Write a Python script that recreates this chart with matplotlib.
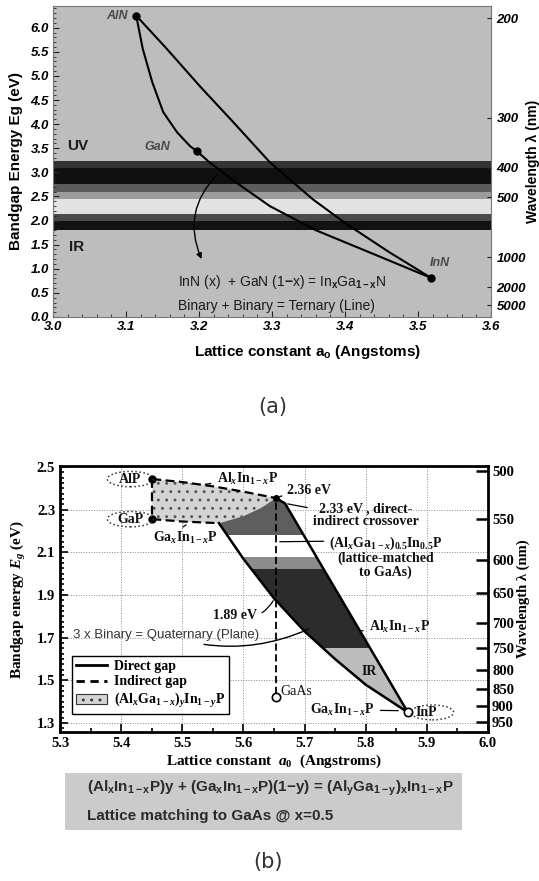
import numpy as np
import matplotlib.pyplot as plt
from matplotlib import patches
from matplotlib.lines import Line2D
from matplotlib.ticker import MultipleLocator

plt.rcParams["font.family"] = ["Liberation Sans", "DejaVu Sans"]
plt.rcParams["mathtext.fontset"] = "custom"
plt.rcParams["mathtext.rm"] = "Liberation Serif:bold"
plt.rcParams["mathtext.it"] = "Liberation Serif:italic:bold"
plt.rcParams["mathtext.bf"] = "Liberation Serif:bold"
plt.rcParams["mathtext.sf"] = "Liberation Sans:bold"
plt.rcParams["hatch.linewidth"] = 0.9
plt.rcParams["axes.unicode_minus"] = True

# ---------------- (a) III-nitrides ----------------
nitride_names = ["AlN", "GaN", "InN"]
nitride_a = [3.114, 3.197, 3.518]
nitride_eg = [6.25, 3.44, 0.81]

aln_gan_a = [3.114, 3.123, 3.136, 3.151, 3.170, 3.188, 3.197]
aln_gan_eg = [6.25, 5.56, 4.87, 4.25, 3.83, 3.54, 3.44]
aln_inn_a = [3.114, 3.156, 3.201, 3.247, 3.297, 3.356, 3.400, 3.460, 3.518]
aln_inn_eg = [6.25, 5.56, 4.79, 4.04, 3.21, 2.44, 1.95, 1.35, 0.81]
gan_inn_a = [3.197, 3.215, 3.250, 3.297, 3.360, 3.440, 3.518]
gan_inn_eg = [3.44, 3.20, 2.80, 2.30, 1.80, 1.30, 0.81]

a_xticks = [3.0, 3.1, 3.2, 3.3, 3.4, 3.5, 3.6]
a_yticks = [0.0, 0.5, 1.0, 1.5, 2.0, 2.5, 3.0, 3.5, 4.0, 4.5, 5.0, 5.5, 6.0]
a_wavelengths = [200, 300, 400, 500, 1000, 2000, 5000]

# spectral bands behind the curves (eV edges, top to bottom)
a_band_edges = [3.23, 3.08, 2.75, 2.60, 2.45, 2.13, 2.00, 1.81]

# ---------------- (b) AlGaInP ----------------
phos_names = ["AlP", "GaP", "GaAs", "InP"]
phos_a = [5.451, 5.451, 5.653, 5.869]
phos_eg = [2.444, 2.256, 1.424, 1.350]

alinp_ind_a = [5.451, 5.50, 5.55, 5.60, 5.653]
alinp_ind_eg = [2.444, 2.430, 2.410, 2.385, 2.355]
gainp_ind_a = [5.451, 5.50, 5.56]
gainp_ind_eg = [2.256, 2.245, 2.237]
cross_a = [5.56, 5.60, 5.63, 5.653]
cross_eg = [2.237, 2.270, 2.310, 2.355]
alinp_dir_a = [5.653, 5.668, 5.869]
alinp_dir_eg = [2.355, 2.330, 1.350]
gainp_dir_a = [5.56, 5.60, 5.65, 5.70, 5.75, 5.80, 5.869]
gainp_dir_eg = [2.237, 2.070, 1.885, 1.730, 1.600, 1.480, 1.350]

b_band_edges = [2.36, 2.18, 2.08, 2.02, 1.65, 1.34]

b_xticks = [5.3, 5.4, 5.5, 5.6, 5.7, 5.8, 5.9, 6.0]
b_yticks = [1.3, 1.5, 1.7, 1.9, 2.1, 2.3, 2.5]
b_wavelengths = [500, 550, 600, 650, 700, 750, 800, 850, 900, 950]

fig = plt.figure(figsize=(5.39, 8.81), dpi=100)

# ======================= panel (a) =======================
axa = fig.add_axes([0.0983, 0.6402, 0.8126, 0.3530])
axa.set_xlim(3.0, 3.6)
axa.set_ylim(0, 6.45)
axa.set_facecolor("#bdbdbd")

band_cols = ["#333333", "#101010", "#5c5c5c", "#9c9c9c", "#e2e2e2", "#4a4a4a", "#121212"]
for hi, lo, c in zip(a_band_edges[:-1], a_band_edges[1:], band_cols):
    axa.axhspan(lo, hi, color=c, lw=0, zorder=1)

for xs, ys in [(aln_gan_a, aln_gan_eg), (aln_inn_a, aln_inn_eg), (gan_inn_a, gan_inn_eg)]:
    axa.plot(xs, ys, color="k", lw=1.5, zorder=3)
axa.plot(nitride_a, nitride_eg, "o", color="k", ms=5, zorder=4)

offs = [(-6, 0, "right"), (-19, 3, "right"), (6, 11, "center")]
for name, x, y, (dx, dy, ha) in zip(nitride_names, nitride_a, nitride_eg, offs):
    axa.annotate(name, (x, y), xytext=(dx, dy), textcoords="offset points",
                 ha=ha, va="center", fontsize=9, fontweight="bold",
                 fontstyle="italic", color="#4a4a4a", zorder=5)

axa.text(3.034, 3.54, "UV", fontsize=11, fontweight="bold", color="#1a1a1a",
         ha="center", va="center", zorder=5)
axa.text(3.033, 1.46, "IR", fontsize=11, fontweight="bold", color="#1a1a1a",
         ha="center", va="center", zorder=5)
axa.text(3.171, 0.73, r"InN (x)  + GaN (1$\mathsf{-}$x) = In$_\mathsf{x}$Ga$_\mathsf{1-x}$N",
         fontsize=10, color="#1a1a1a", ha="left", va="center", zorder=5)
axa.text(3.171, 0.23, "Binary + Binary = Ternary (Line)",
         fontsize=10, color="#1a1a1a", ha="left", va="center", zorder=5)
axa.annotate("", xy=(3.205, 1.15), xytext=(3.228, 3.0),
             arrowprops=dict(arrowstyle="-|>", connectionstyle="arc3,rad=0.35",
                             color="k", lw=1.0, mutation_scale=8), zorder=5)

axa.set_xticks(a_xticks, [f"{v:.1f}" for v in a_xticks],
               fontweight="bold", fontstyle="italic", fontsize=9.5)
axa.set_yticks(a_yticks, [f"{v:.1f}" for v in a_yticks],
               fontweight="bold", fontstyle="italic", fontsize=9.5)
axa.xaxis.set_minor_locator(MultipleLocator(0.02))
axa.yaxis.set_minor_locator(MultipleLocator(0.1))
axa.tick_params(which="both", direction="in", color="#222222")
axa.tick_params(which="major", length=4, pad=3)
axa.tick_params(which="minor", length=2)
for sp in axa.spines.values():
    sp.set_color("#777777")
    sp.set_linewidth(0.8)
axa.set_ylabel("Bandgap Energy Eg (eV)", fontsize=11, fontweight="bold", labelpad=5)
axa.set_xlabel(r"Lattice constant a$_\mathsf{o}$ (Angstoms)", fontsize=11, fontweight="bold")
axa.xaxis.set_label_coords(0.58, -0.085)

axa2 = axa.twinx()
axa2.set_ylim(axa.get_ylim())
axa2.set_yticks([1240.0 / w for w in a_wavelengths], [str(w) for w in a_wavelengths],
                fontweight="bold", fontstyle="italic", fontsize=9.5)
axa2.tick_params(direction="in", length=3, color="#222222", pad=4)
for sp in axa2.spines.values():
    sp.set_visible(False)
axa2.set_ylabel("Wavelength λ (nm)", fontsize=10, fontweight="bold", labelpad=0)

fig.text(273 / 539, 1 - 407 / 881, "(a)", ha="center", va="center",
         fontsize=15, color="#333333", family="DejaVu Sans")

# ======================= panel (b) =======================
serif = "Liberation Serif"
axb = fig.add_axes([0.1113, 0.1691, 0.7940, 0.3019])
axb.set_xlim(5.3, 6.0)
axb.set_ylim(1.258, 2.505)
axb.set_axisbelow(True)
axb.grid(True, ls=":", lw=0.7, color="#8a8a8a")

ind_xy = np.column_stack([alinp_ind_a + cross_a[::-1] + gainp_ind_a[::-1],
                          alinp_ind_eg + cross_eg[::-1] + gainp_ind_eg[::-1]])
axb.add_patch(patches.Polygon(ind_xy, closed=True, facecolor="#d4d4d4",
                              edgecolor="#555555", hatch="..", lw=0, zorder=1.5))

dir_xy = np.column_stack([cross_a + alinp_dir_a[1:] + gainp_dir_a[::-1][1:],
                          cross_eg + alinp_dir_eg[1:] + gainp_dir_eg[::-1][1:]])
dir_patch = patches.Polygon(dir_xy, closed=True, facecolor="none", edgecolor="none")
axb.add_patch(dir_patch)
b_cols = ["#5e5e5e", "#ffffff", "#8c8c8c", "#2c2c2c", "#bcbcbc"]
for hi, lo, c in zip(b_band_edges[:-1], b_band_edges[1:], b_cols):
    r = axb.axhspan(lo, hi, facecolor=c, lw=0, zorder=1.6)
    r.set_clip_path(dir_patch)

dash = dict(color="k", lw=1.6, ls=(0, (4, 2)), zorder=4)
axb.plot(alinp_ind_a, alinp_ind_eg, **dash)
axb.plot(gainp_ind_a, gainp_ind_eg, **dash)
axb.plot(phos_a[:2], phos_eg[:2], **dash)
axb.plot([phos_a[2], phos_a[2]], [phos_eg[2] + 0.012, alinp_dir_eg[0]],
         color="k", lw=1.3, ls=(0, (4, 2)), zorder=4)
axb.plot(alinp_dir_a, alinp_dir_eg, color="k", lw=1.8, zorder=4)
axb.plot(gainp_dir_a, gainp_dir_eg, color="k", lw=1.8, zorder=4)

axb.plot(phos_a[:2], phos_eg[:2], "o", color="k", ms=5, zorder=5)
axb.plot(phos_a[2:], phos_eg[2:], "o", mfc="white", mec="k", ms=6, mew=1.2, zorder=5)
axb.plot(alinp_dir_a[:1], alinp_dir_eg[:1], "o", color="k", ms=4, zorder=5)

tb = dict(family=serif, fontweight="bold", fontsize=10, color="#111111", zorder=6)
# binary labels with dotted ellipses
for name, x, y in zip(phos_names[:2], phos_a[:2], phos_eg[:2]):
    axb.add_patch(patches.Ellipse((x - 0.036, y), 0.075, 0.072, fill=False,
                                  ls=":", lw=1.1, ec="#333333", zorder=6))
    axb.text(x - 0.036, y, name, ha="center", va="center", **tb)
axb.add_patch(patches.Ellipse((phos_a[3] + 0.040, phos_eg[3]), 0.07, 0.07, fill=False,
                              ls=":", lw=1.1, ec="#333333", zorder=6))
axb.text(phos_a[3] + 0.013, phos_eg[3], "InP", ha="left", va="center", **tb)
axb.text(phos_a[2] + 0.007, phos_eg[2] + 0.022, "GaAs", ha="left", va="center",
         family=serif, fontsize=10, color="#111111", zorder=6)

lead = dict(arrowstyle="-", color="k", lw=0.9)
axb.annotate(r"Al$_x$In$_{1-x}$P", (5.533, 2.418), xytext=(5.556, 2.445),
             ha="left", va="center", arrowprops=lead, **tb)
axb.annotate(r"Ga$_x$In$_{1-x}$P", (5.51, 2.237), xytext=(5.452, 2.168),
             ha="left", va="center", arrowprops=dict(arrowstyle="-", color="k", lw=0.9,
                                                      shrinkA=0, relpos=(0.4, 1.0)), **tb)
axb.annotate("2.36 eV", (5.655, 2.36), xytext=(5.672, 2.39), ha="left", va="center",
             arrowprops=lead, **tb)
axb.annotate("2.33 eV , direct-\nindirect crossover", (5.668, 2.33), xytext=(5.80, 2.275),
             ha="center", va="center", linespacing=1.0,
             arrowprops=dict(arrowstyle="-", color="k", lw=0.9, relpos=(0.0, 0.75)), **tb)
axb.annotate("(Al$_x$Ga$_{1-x}$)$_{0.5}$In$_{0.5}$P\n(lattice-matched\nto GaAs)",
             (5.655, 2.15), xytext=(5.833, 2.08), ha="center", va="center",
             linespacing=1.0,
             arrowprops=dict(arrowstyle="-", color="k", lw=0.9, relpos=(0.0, 0.85)), **tb)
axb.annotate("1.89 eV", (5.651, 1.885), xytext=(5.622, 1.805), ha="right", va="center",
             arrowprops=dict(arrowstyle="-", color="k", lw=0.9,
                             connectionstyle="arc3,rad=0.4"), **tb)
axb.annotate("3 x Binary = Quaternary (Plane)", (5.71, 1.745), xytext=(5.322, 1.712),
             ha="left", va="center", fontsize=9.5, color="#333333",
             arrowprops=dict(arrowstyle="-", color="k", lw=1.0,
                             connectionstyle="arc3,rad=0.2"), zorder=6)
axb.annotate(r"Al$_x$In$_{1-x}$P", (5.785, 1.73), xytext=(5.805, 1.75),
             ha="left", va="center", arrowprops=lead, **tb)
axb.text(5.805, 1.54, "IR", ha="center", va="center", **tb)
axb.annotate(r"Ga$_x$In$_{1-x}$P", (5.858, 1.358), xytext=(5.815, 1.362),
             ha="right", va="center", arrowprops=lead, **tb)

axb.set_xticks(b_xticks, [f"{v:.1f}" for v in b_xticks], family=serif,
               fontweight="bold", fontsize=10.5)
axb.set_yticks(b_yticks, [f"{v:.1f}" for v in b_yticks], family=serif,
               fontweight="bold", fontsize=10.5)
axb.yaxis.set_minor_locator(MultipleLocator(0.025))
axb.xaxis.set_minor_locator(MultipleLocator(0.05))
axb.tick_params(which="both", direction="in", width=1.2)
axb.tick_params(which="major", length=6)
axb.tick_params(which="minor", length=3)
for sp in axb.spines.values():
    sp.set_linewidth(2.0)
axb.set_ylabel(r"Bandgap energy $E_g$ (eV)", family=serif, fontweight="bold",
               fontsize=11, labelpad=6)
axb.set_xlabel(r"Lattice constant  $a_0$  (Angstroms)", family=serif,
               fontweight="bold", fontsize=11, labelpad=2)

axb2 = axb.twinx()
axb2.set_ylim(axb.get_ylim())
axb2.set_yticks([1240.0 / w for w in b_wavelengths], [str(w) for w in b_wavelengths],
                family=serif, fontweight="bold", fontsize=10.5)
axb2.tick_params(direction="in", length=9, width=1.8, pad=3)
for sp in axb2.spines.values():
    sp.set_visible(False)
axb2.set_ylabel("Wavelength λ (nm)", family=serif, fontweight="bold",
                fontsize=10.5, labelpad=2)

handles = [Line2D([], [], color="k", lw=2),
           Line2D([], [], color="k", lw=2, ls=(0, (3, 2))),
           patches.Patch(facecolor="#d4d4d4", edgecolor="#333333", hatch="..", lw=0.8)]
labels = ["Direct gap", "Indirect gap", r"(Al$_x$Ga$_{1-x}$)$_y$In$_{1-y}$P"]
leg = axb.legend(handles, labels, loc="lower left", bbox_to_anchor=(0.012, 0.04),
                 prop=dict(family=serif, weight="bold", size=10), fancybox=False,
                 edgecolor="k", framealpha=1, borderpad=0.3, handlelength=2.2,
                 labelspacing=0.2, handletextpad=0.5)
leg.get_frame().set_linewidth(1.0)
leg.set_zorder(7)

# formula box under panel (b)
fig.add_artist(patches.Rectangle((0.1206, 0.0579), 0.7365, 0.0647,
                                 transform=fig.transFigure, facecolor="#cbcbcb",
                                 edgecolor="none"))
fig.text(0.162, 1 - 789 / 881,
         r"(Al$_\mathsf{x}$In$_\mathsf{1-x}$P)y + (Ga$_\mathsf{x}$In$_\mathsf{1-x}$P)(1$\mathsf{-}$y)"
         r" = (Al$_\mathsf{y}$Ga$_\mathsf{1-y}$)$_\mathsf{x}$In$_\mathsf{1-x}$P",
         fontsize=11, fontweight="bold", color="#2b2b2b", va="center")
fig.text(0.162, 1 - 816 / 881, "Lattice matching to GaAs @ x=0.5",
         fontsize=11, fontweight="bold", color="#2b2b2b", va="center")

fig.text(268 / 539, 1 - 862 / 881, "(b)", ha="center", va="center",
         fontsize=15, color="#333333", family="DejaVu Sans")

fig.savefig("out.png", dpi=100)
